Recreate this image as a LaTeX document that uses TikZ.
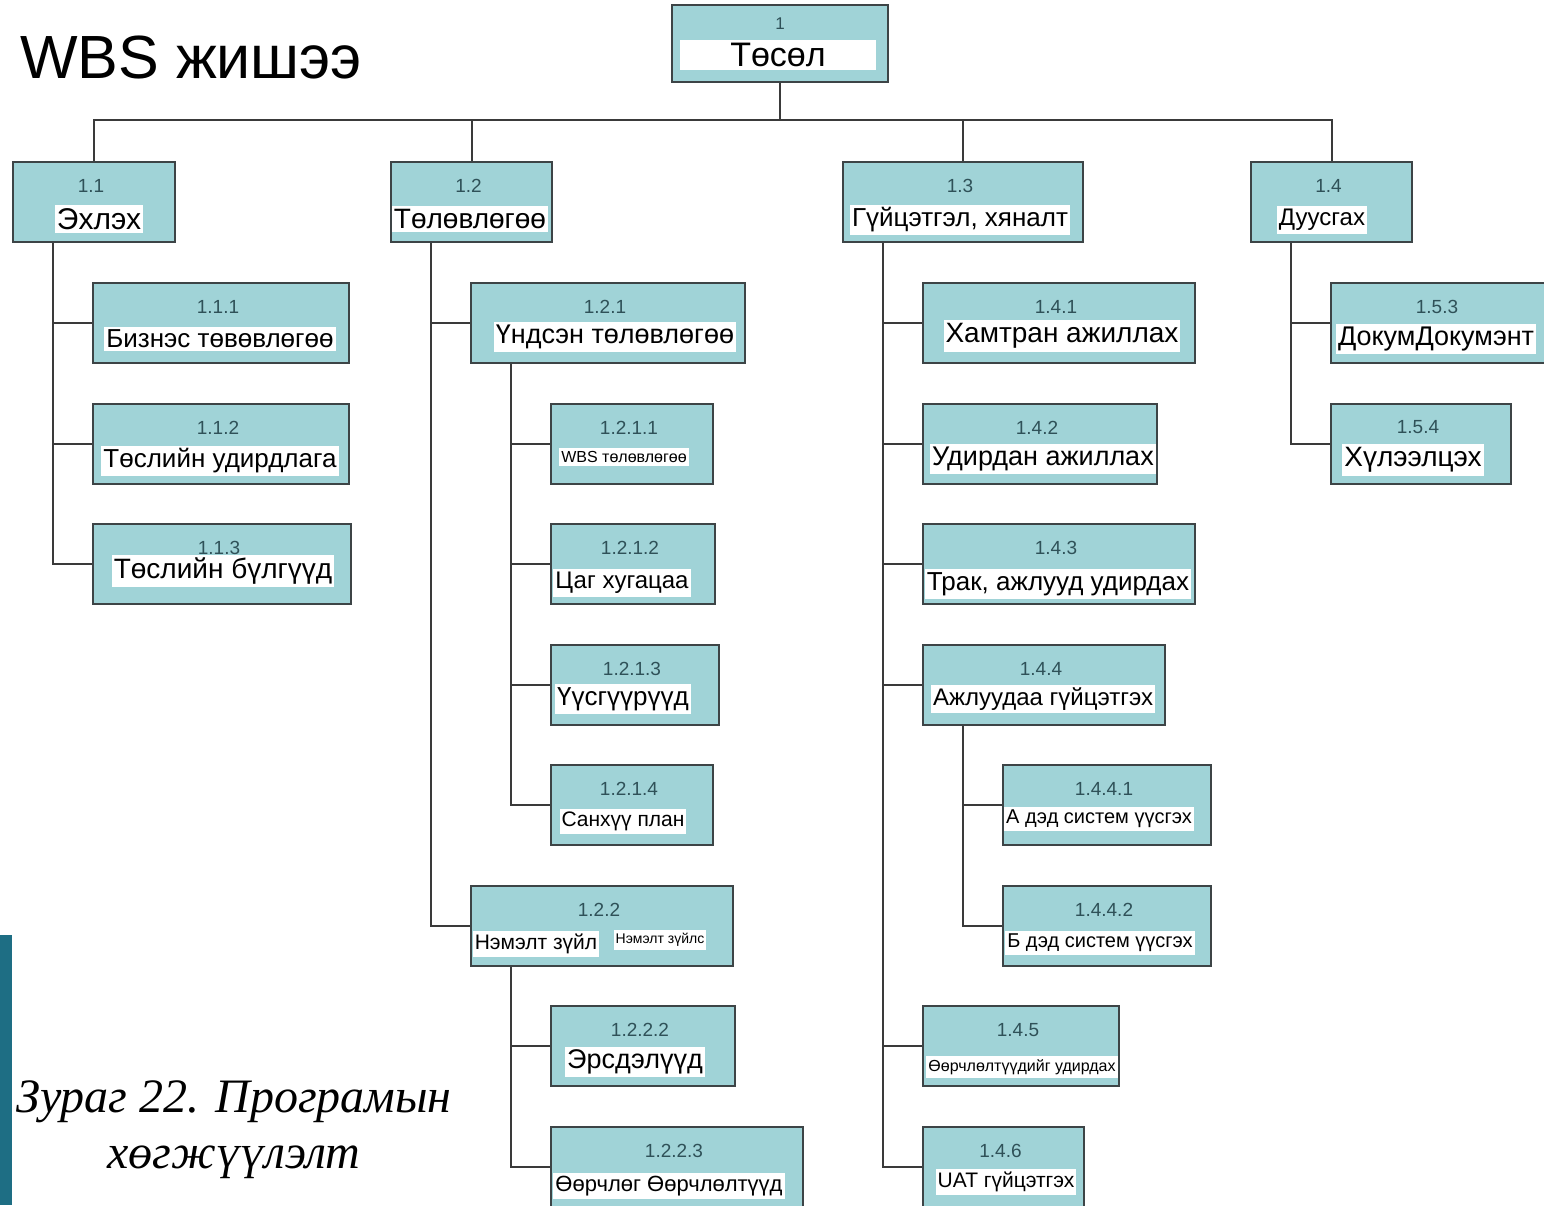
\documentclass[tikz,border=0pt]{standalone}
\usepackage{fontspec}
\setmainfont{Liberation Serif}
\newfontfamily\arial{Liberation Sans}
\definecolor{boxfill}{HTML}{A0D3D7}
\definecolor{boxline}{HTML}{3D4446}
\definecolor{numtext}{HTML}{2F5158}
\definecolor{wirec}{HTML}{3A3A3A}
\definecolor{slidebar}{HTML}{1E6E84}

\begin{document}
\begin{tikzpicture}[x=1pt, y=-1pt,
    fs/.style={font=\arial\fontsize{#1}{#1}\selectfont},
    box/.style={draw=boxline, fill=boxfill, line width=2pt, minimum height=80pt, inner sep=0pt},
    num/.style={fs=19, text=numtext, inner sep=0pt},
    lbl/.style={fill=white, text=black, inner xsep=2pt, inner ysep=3pt},
    wire/.style={draw=wirec, line width=2pt},
  ]
  \useasboundingbox (0,0) rectangle (1544,1205);
  \fill[slidebar] (0,935) rectangle (12,1205);

  \node[fs=61, anchor=base west, inner sep=0pt] (title) at (20,78) {WBS жишээ};

  % level 0 / 1
  \node[box, minimum width=216, minimum height=77] (n1) at (780,43.5) {};
  \node[box, minimum width=162] (n11) at (94,202) {};
  \node[box, minimum width=161] (n12) at (471.5,202) {};
  \node[box, minimum width=240] (n13) at (963,202) {};
  \node[box, minimum width=161] (n14) at (1331.5,202) {};
  % 1.1
  \node[box, minimum width=256] (n111) at (221,323) {};
  \node[box, minimum width=256] (n112) at (221,443.5) {};
  \node[box, minimum width=258] (n113) at (222,563.5) {};
  % 1.2
  \node[box, minimum width=274] (n121) at (608,323) {};
  \node[box, minimum width=162] (n1211) at (632,443.5) {};
  \node[box, minimum width=164] (n1212) at (633,563.5) {};
  \node[box, minimum width=168] (n1213) at (635,685) {};
  \node[box, minimum width=162] (n1214) at (632,805) {};
  \node[box, minimum width=262] (n122) at (602,925.5) {};
  \node[box, minimum width=184] (n1222) at (643,1046) {};
  \node[box, minimum width=252] (n1223) at (677,1167) {};
  % 1.3
  \node[box, minimum width=272] (n141) at (1059,323) {};
  \node[box, minimum width=234] (n142) at (1040,443.5) {};
  \node[box, minimum width=272] (n143) at (1059,563.5) {};
  \node[box, minimum width=242] (n144) at (1044,685) {};
  \node[box, minimum width=208] (n1441) at (1107,805) {};
  \node[box, minimum width=208] (n1442) at (1107,925.5) {};
  \node[box, minimum width=196] (n145) at (1021,1046) {};
  \node[box, minimum width=161] (n146) at (1003.5,1167) {};
  % 1.4
  \node[box, minimum width=218] (n153) at (1440,323) {};
  \node[box, minimum width=180] (n154) at (1421,443.5) {};

  % connectors
  \coordinate (bus) at (779,120);
  \foreach \c in {n11,n12,n13,n14}
    \draw[wire] (n1.south) |- (bus -| \c.north) -- (\c.north);
  \foreach \p/\c in {n11/n111, n11/n112, n11/n113,
      n12/n121, n12/n122, n121/n1211, n121/n1212, n121/n1213, n121/n1214,
      n122/n1222, n122/n1223,
      n13/n141, n13/n142, n13/n143, n13/n144, n13/n145, n13/n146,
      n144/n1441, n144/n1442, n14/n153, n14/n154}
    \draw[wire] ([xshift=41pt]\p.south west) |- (\c.west);

  % numbers
  \node[num, fs=17] (n1-no) at ([yshift=-20pt]n1.north) {1};
  \foreach \b/\t in {n11/1.1, n12/1.2, n13/1.3, n14/1.4,
      n111/1.1.1, n112/1.1.2, n113/1.1.3, n121/1.2.1, n1211/1.2.1.1,
      n1212/1.2.1.2, n1213/1.2.1.3, n1214/1.2.1.4, n122/1.2.2,
      n1222/1.2.2.2, n1223/1.2.2.3, n141/1.4.1, n142/1.4.2, n143/1.4.3,
      n144/1.4.4, n1441/1.4.4.1, n1442/1.4.4.2, n145/1.4.5, n146/1.4.6,
      n153/1.5.3, n154/1.5.4}
    \node[num] (\b-no) at ([xshift=-3pt, yshift=-25pt]\b.north) {\t};

  % labels
  \node[lbl, fs=34, minimum width=196] (n1-txt) at (778,55) {Төсөл};
  \node[lbl, fs=30] (n11-txt) at (99,219) {Эхлэх};
  \node[lbl, fs=28] (n12-txt) at (470,219) {Төлөвлөгөө};
  \node[lbl, fs=26] (n13-txt) at (960,220) {Гүйцэтгэл, хяналт};
  \node[lbl, fs=24] (n14-txt) at (1322,220) {Дуусгах};
  \node[lbl, fs=26] (n111-txt) at (220,339) {Бизнэс төвөвлөгөө};
  \node[lbl, fs=26] (n112-txt) at (220,461) {Төслийн удирдлага};
  \node[lbl, fs=28] (n113-txt) at (223,571) {Төслийн бүлгүүд};
  \node[lbl, fs=27] (n121-txt) at (615,337) {Үндсэн төлөвлөгөө};
  \node[lbl, fs=16] (n1211-txt) at (624,457) {WBS төлөвлөгөө};
  \node[lbl, fs=24] (n1212-txt) at (622,583) {Цаг хугацаа};
  \node[lbl, fs=26] (n1213-txt) at (623,699) {Үүсгүүрүүд};
  \node[lbl, fs=21] (n1214-txt) at (623,821) {Санхүү план};
  \node[lbl, fs=21] (n122-txt) at (536,944) {Нэмэлт зүйл};
  \node[lbl, fs=14] (n122-txt2) at (660,940) {Нэмэлт зүйлс};
  \node[lbl, fs=27] (n1222-txt) at (635,1062) {Эрсдэлүүд};
  \node[lbl, fs=22] (n1223-txt) at (669,1186) {Өөрчлөг Өөрчлөлтүүд};
  \node[lbl, fs=28] (n141-txt) at (1062,336) {Хамтран ажиллах};
  \node[lbl, fs=27] (n142-txt) at (1043,459) {Удирдан ажиллах};
  \node[lbl, fs=26] (n143-txt) at (1058,584) {Трак, ажлууд удирдах};
  \node[lbl, fs=24] (n144-txt) at (1043,699) {Ажлуудаа гүйцэтгэх};
  \node[lbl, fs=20] (n1441-txt) at (1099,819) {А дэд систем үүсгэх};
  \node[lbl, fs=20] (n1442-txt) at (1100,943) {Б дэд систем үүсгэх};
  \node[lbl, fs=16] (n145-txt) at (1022,1067) {Өөрчлөлтүүдийг удирдах};
  \node[lbl, fs=21] (n146-txt) at (1006,1182) {UAT гүйцэтгэх};
  \node[lbl, fs=27] (n153-txt) at (1436,339) {ДокумДокумэнт};
  \node[lbl, fs=28] (n154-txt) at (1413,460) {Хүлээлцэх};

  % caption
  \node[font=\fontsize{48}{56}\selectfont\itshape, anchor=base, inner sep=0pt] (cap1) at (234,1112) {Зураг 22. Програмын};
  \node[font=\fontsize{48}{56}\selectfont\itshape, anchor=base, inner sep=0pt] (cap2) at (234,1168) {хөгжүүлэлт};
\end{tikzpicture}
\end{document}
